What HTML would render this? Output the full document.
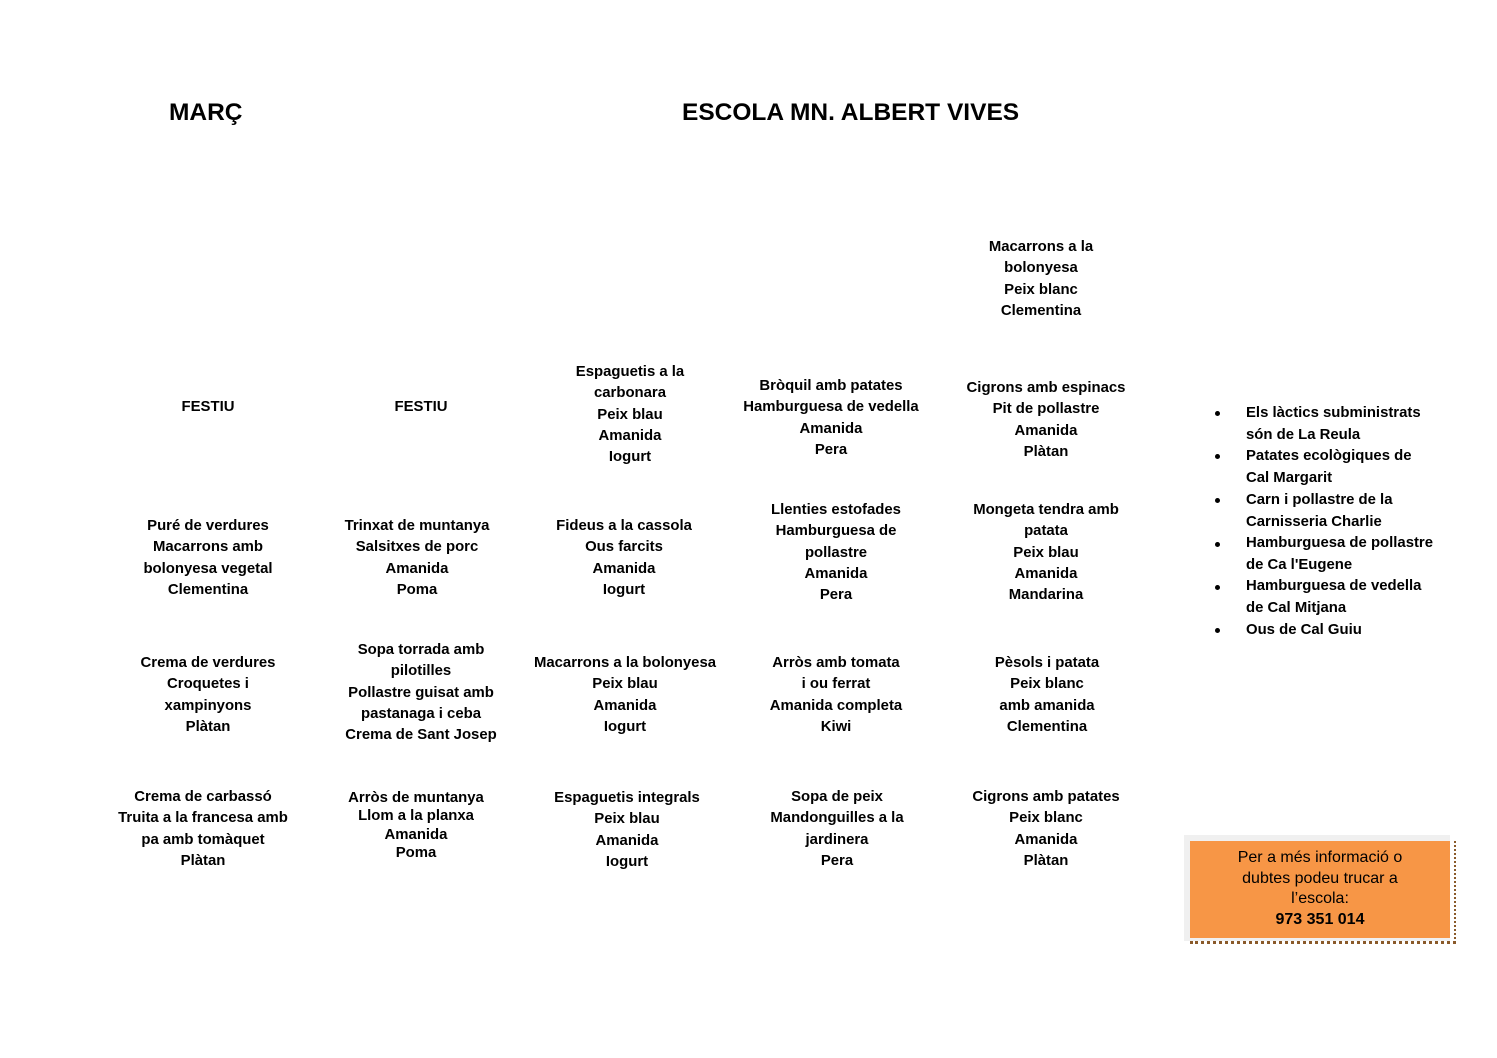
<!DOCTYPE html>
<html><head><meta charset="utf-8"><style>
body{margin:0;width:1497px;height:1058px;background:#fff;position:relative;font-family:"Liberation Sans",Arial,sans-serif;color:#000;overflow:hidden}
.b{position:absolute;width:240px;text-align:center;font-size:14.9px;line-height:21.3px;white-space:nowrap;font-weight:bold}
.t{position:absolute;font-size:24.5px;line-height:26px;white-space:nowrap;font-weight:bold}
.l{position:absolute;left:1246px;font-size:14.9px;line-height:21.6px;white-space:nowrap;font-weight:bold}
.d{position:absolute;left:1215px;width:5px;height:5px;border-radius:50%;background:#000}
</style></head><body>
<div class="t" style="left:169px;top:100px">MARÇ</div>
<div class="t" style="left:682px;top:100px">ESCOLA MN. ALBERT VIVES</div>

<div class="b" style="left:88px;top:397px">FESTIU</div>
<div class="b" style="left:88px;top:516px">Puré de verdures<br>Macarrons amb<br>bolonyesa vegetal<br>Clementina</div>
<div class="b" style="left:88px;top:653px">Crema de verdures<br>Croquetes i<br>xampinyons<br>Plàtan</div>
<div class="b" style="left:83px;top:787px">Crema de carbassó<br>Truita a la francesa amb<br>pa amb tomàquet<br>Plàtan</div>

<div class="b" style="left:301px;top:397px">FESTIU</div>
<div class="b" style="left:297px;top:516px">Trinxat de muntanya<br>Salsitxes de porc<br>Amanida<br>Poma</div>
<div class="b" style="left:301px;top:640px">Sopa torrada amb<br>pilotilles<br>Pollastre guisat amb<br>pastanaga i ceba<br>Crema de Sant Josep</div>
<div class="b" style="left:296px;top:789px;line-height:18.3px">Arròs de muntanya<br>Llom a la planxa<br>Amanida<br>Poma</div>

<div class="b" style="left:510px;top:362px">Espaguetis a la<br>carbonara<br>Peix blau<br>Amanida<br>Iogurt</div>
<div class="b" style="left:504px;top:516px">Fideus a la cassola<br>Ous farcits<br>Amanida<br>Iogurt</div>
<div class="b" style="left:505px;top:653px">Macarrons a la bolonyesa<br>Peix blau<br>Amanida<br>Iogurt</div>
<div class="b" style="left:507px;top:788px">Espaguetis integrals<br>Peix blau<br>Amanida<br>Iogurt</div>

<div class="b" style="left:711px;top:376px">Bròquil amb patates<br>Hamburguesa de vedella<br>Amanida<br>Pera</div>
<div class="b" style="left:716px;top:500px">Llenties estofades<br>Hamburguesa de<br>pollastre<br>Amanida<br>Pera</div>
<div class="b" style="left:716px;top:653px">Arròs amb tomata<br>i ou ferrat<br>Amanida completa<br>Kiwi</div>
<div class="b" style="left:717px;top:787px">Sopa de peix<br>Mandonguilles a la<br>jardinera<br>Pera</div>

<div class="b" style="left:921px;top:237px">Macarrons a la<br>bolonyesa<br>Peix blanc<br>Clementina</div>
<div class="b" style="left:926px;top:378px">Cigrons amb espinacs<br>Pit de pollastre<br>Amanida<br>Plàtan</div>
<div class="b" style="left:926px;top:500px">Mongeta tendra amb<br>patata<br>Peix blau<br>Amanida<br>Mandarina</div>
<div class="b" style="left:927px;top:653px">Pèsols i patata<br>Peix blanc<br>amb amanida<br>Clementina</div>
<div class="b" style="left:926px;top:787px">Cigrons amb patates<br>Peix blanc<br>Amanida<br>Plàtan</div>

<div class="d" style="top:411px"></div><div class="l" style="top:403px">Els làctics subministrats<br>són de La Reula</div>
<div class="d" style="top:454px"></div><div class="l" style="top:446px">Patates ecològiques de<br>Cal Margarit</div>
<div class="d" style="top:498px"></div><div class="l" style="top:490px">Carn i pollastre de la<br>Carnisseria Charlie</div>
<div class="d" style="top:542px"></div><div class="l" style="top:533px">Hamburguesa de pollastre<br>de Ca l'Eugene</div>
<div class="d" style="top:585px"></div><div class="l" style="top:576px">Hamburguesa de vedella<br>de Cal Mitjana</div>
<div class="d" style="top:628px"></div><div class="l" style="top:620px">Ous de Cal Guiu</div>

<div style="position:absolute;left:1184px;top:835px;width:266px;height:106px;background:#f0f0f0"></div>
<div style="position:absolute;left:1190px;top:841px;width:260px;height:97px;background:#f79646;text-align:center;font-size:16px;line-height:20.5px;padding-top:7px;box-sizing:border-box">Per a més informació o<br>dubtes podeu trucar a<br>l’escola:<br><b>973 351 014</b></div>
<div style="position:absolute;left:1190px;top:941px;width:266px;height:0;border-top:3px dotted #8a5a2a"></div>
<div style="position:absolute;left:1454px;top:841px;width:0;height:102px;border-left:2px dotted #8a5a2a"></div>
</body></html>
